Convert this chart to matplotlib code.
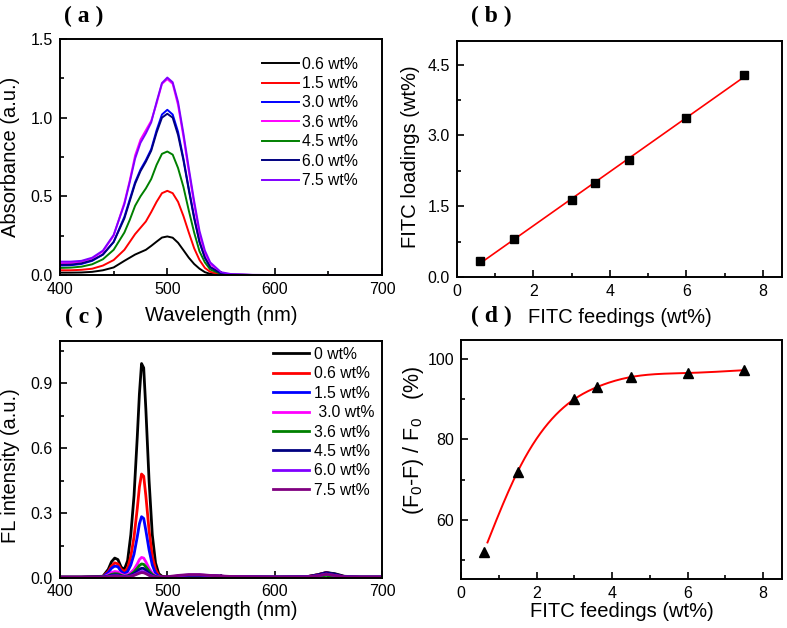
import numpy as np
import matplotlib
matplotlib.use("Agg")
import matplotlib.pyplot as plt
from matplotlib.ticker import MultipleLocator

plt.rcParams['font.family'] = ['Liberation Sans', 'DejaVu Sans']
plt.rcParams['mathtext.fontset'] = 'custom'
plt.rcParams['mathtext.rm'] = 'Liberation Sans'
plt.rcParams['mathtext.it'] = 'Liberation Sans:italic'

# (a) absorbance spectra
wl_abs = [400, 410, 420, 430, 440, 450, 460, 465, 470, 475, 480, 485, 490, 495, 500,
          505, 510, 515, 520, 525, 530, 535, 540, 550, 560, 580, 600, 650, 700]
abs_06 = [0.015, 0.015, 0.016, 0.02, 0.03, 0.048, 0.09, 0.11, 0.13, 0.145, 0.16, 0.185, 0.212, 0.238, 0.245,
          0.237, 0.205, 0.158, 0.11, 0.07, 0.04, 0.018, 0.007, 0.001, 0, 0, 0, 0, 0]
abs_15 = [0.03, 0.03, 0.033, 0.04, 0.06, 0.095, 0.16, 0.21, 0.26, 0.3, 0.34, 0.4, 0.465, 0.52, 0.535,
          0.52, 0.465, 0.375, 0.27, 0.17, 0.095, 0.045, 0.02, 0.004, 0.001, 0, 0, 0, 0]
abs_30 = [0.06, 0.062, 0.07, 0.09, 0.13, 0.21, 0.37, 0.48, 0.59, 0.67, 0.73, 0.8, 0.92, 1.02, 1.05,
          1.02, 0.91, 0.74, 0.55, 0.37, 0.21, 0.11, 0.05, 0.01, 0.002, 0, 0, 0, 0]
abs_36 = [0.075, 0.076, 0.085, 0.105, 0.15, 0.25, 0.46, 0.6, 0.76, 0.86, 0.92, 0.98, 1.09, 1.215, 1.245,
          1.215, 1.08, 0.88, 0.66, 0.45, 0.26, 0.14, 0.07, 0.012, 0.003, 0, 0, 0, 0]
abs_45 = [0.045, 0.047, 0.053, 0.068, 0.1, 0.16, 0.27, 0.35, 0.44, 0.5, 0.55, 0.61, 0.7, 0.77, 0.785,
          0.765, 0.68, 0.56, 0.41, 0.27, 0.15, 0.08, 0.035, 0.007, 0.001, 0, 0, 0, 0]
abs_60 = [0.065, 0.066, 0.074, 0.093, 0.13, 0.21, 0.36, 0.47, 0.58, 0.66, 0.72, 0.79, 0.905, 1.0, 1.025,
          1.0, 0.89, 0.73, 0.54, 0.36, 0.21, 0.11, 0.05, 0.01, 0.002, 0, 0, 0, 0]
abs_75 = [0.085, 0.085, 0.09, 0.11, 0.155, 0.255, 0.45, 0.59, 0.74, 0.84, 0.9, 0.97, 1.1, 1.22, 1.255,
          1.225, 1.1, 0.9, 0.68, 0.47, 0.28, 0.155, 0.08, 0.018, 0.005, 0.001, 0, 0, 0]
abs_labels = ["0.6 wt%", "1.5 wt%", "3.0 wt%", "3.6 wt%", "4.5 wt%", "6.0 wt%", "7.5 wt%"]
abs_colors = ["black", "#FF0000", "#0000FF", "#FF00FF", "#008000", "#000080", "#8000FF"]

# (b) loading vs feeding
feed = [0.6, 1.5, 3.0, 3.6, 4.5, 6.0, 7.5]
loading = [0.33, 0.80, 1.63, 2.00, 2.48, 3.36, 4.28]

# (c) fluorescence spectra
wl_fl = [400, 420, 440, 445, 448, 451, 454, 457, 460, 463, 466, 469, 472, 474, 476, 478, 480, 483,
         486, 489, 492, 495, 500, 510, 520, 530, 540, 560, 600, 630, 640, 648, 656, 665, 680, 700]
fl_00 = [0.005, 0.005, 0.008, 0.04, 0.075, 0.092, 0.085, 0.05, 0.04, 0.08, 0.2, 0.38, 0.65, 0.85, 0.99, 0.97, 0.78, 0.45,
         0.2, 0.07, 0.02, 0.008, 0.005, 0.008, 0.012, 0.012, 0.01, 0.006, 0.005, 0.006, 0.015, 0.025, 0.02, 0.008, 0.005, 0.005]
fl_06 = [0.004, 0.004, 0.006, 0.03, 0.055, 0.07, 0.065, 0.04, 0.03, 0.045, 0.1, 0.19, 0.32, 0.42, 0.48, 0.47, 0.38, 0.22,
         0.1, 0.04, 0.012, 0.005, 0.004, 0.008, 0.012, 0.012, 0.01, 0.006, 0.004, 0.006, 0.015, 0.025, 0.015, 0.006, 0.004, 0.004]
fl_15 = [0.004, 0.004, 0.005, 0.025, 0.045, 0.055, 0.052, 0.03, 0.02, 0.03, 0.06, 0.11, 0.19, 0.25, 0.283, 0.275, 0.22, 0.13,
         0.06, 0.022, 0.008, 0.004, 0.004, 0.008, 0.012, 0.012, 0.01, 0.006, 0.004, 0.005, 0.01, 0.018, 0.012, 0.005, 0.004, 0.004]
fl_30 = [0.003, 0.003, 0.004, 0.015, 0.025, 0.03, 0.028, 0.018, 0.012, 0.015, 0.025, 0.04, 0.065, 0.085, 0.095, 0.092, 0.075, 0.045,
         0.022, 0.01, 0.005, 0.003, 0.003, 0.008, 0.012, 0.012, 0.01, 0.006, 0.004, 0.005, 0.01, 0.015, 0.01, 0.005, 0.004, 0.004]
fl_36 = [0.003, 0.003, 0.004, 0.01, 0.017, 0.02, 0.019, 0.012, 0.008, 0.01, 0.017, 0.028, 0.045, 0.058, 0.065, 0.063, 0.052, 0.032,
         0.016, 0.007, 0.004, 0.003, 0.003, 0.008, 0.012, 0.012, 0.01, 0.006, 0.004, 0.005, 0.008, 0.012, 0.008, 0.005, 0.004, 0.004]
fl_45 = [0.003, 0.003, 0.004, 0.008, 0.013, 0.015, 0.014, 0.009, 0.006, 0.008, 0.013, 0.02, 0.032, 0.04, 0.045, 0.044, 0.036, 0.022,
         0.011, 0.005, 0.003, 0.003, 0.003, 0.008, 0.012, 0.012, 0.01, 0.006, 0.004, 0.006, 0.015, 0.025, 0.018, 0.006, 0.004, 0.004]
fl_60 = [0.003, 0.003, 0.003, 0.006, 0.009, 0.01, 0.01, 0.007, 0.005, 0.006, 0.009, 0.014, 0.021, 0.027, 0.03, 0.029, 0.024, 0.015,
         0.008, 0.004, 0.003, 0.003, 0.003, 0.01, 0.014, 0.014, 0.011, 0.006, 0.004, 0.005, 0.01, 0.018, 0.012, 0.005, 0.004, 0.004]
fl_75 = [0.003, 0.003, 0.003, 0.005, 0.007, 0.008, 0.008, 0.006, 0.004, 0.005, 0.008, 0.012, 0.018, 0.022, 0.025, 0.024, 0.02, 0.012,
         0.006, 0.004, 0.003, 0.004, 0.006, 0.012, 0.016, 0.016, 0.012, 0.007, 0.004, 0.005, 0.01, 0.018, 0.012, 0.005, 0.004, 0.004]
fl_labels = ["0 wt%", "0.6 wt%", "1.5 wt%", " 3.0 wt%", "3.6 wt%", "4.5 wt%", "6.0 wt%", "7.5 wt%"]
fl_colors = ["black", "#FF0000", "#0000FF", "#FF00FF", "#008000", "#000080", "#8000FF", "#800080"]

# (d) quenching efficiency
quench = [52.0, 72.0, 90.0, 93.0, 95.5, 96.5, 97.2]


def natural_spline(x, y, xs):
    # plain natural cubic spline through the points
    x = np.asarray(x, float)
    y = np.asarray(y, float)
    n = len(x)
    h = np.diff(x)
    M = np.zeros((n, n))
    r = np.zeros(n)
    M[0, 0] = M[-1, -1] = 1
    for i in range(1, n - 1):
        M[i, i - 1] = h[i - 1]
        M[i, i] = 2 * (h[i - 1] + h[i])
        M[i, i + 1] = h[i]
        r[i] = 6 * ((y[i + 1] - y[i]) / h[i] - (y[i] - y[i - 1]) / h[i - 1])
    m = np.linalg.solve(M, r)
    idx = np.clip(np.searchsorted(x, xs) - 1, 0, n - 2)
    t0 = xs - x[idx]
    t1 = x[idx + 1] - xs
    hi = h[idx]
    return (m[idx] * t1 ** 3 / (6 * hi) + m[idx + 1] * t0 ** 3 / (6 * hi)
            + (y[idx] / hi - m[idx] * hi / 6) * t1 + (y[idx + 1] / hi - m[idx + 1] * hi / 6) * t0)


fig = plt.figure(figsize=(7.87, 6.28), dpi=100)
ax_a = fig.add_axes([0.0762, 0.5621, 0.4092, 0.3758])
ax_b = fig.add_axes([0.5807, 0.5589, 0.4130, 0.3758])
ax_c = fig.add_axes([0.0762, 0.0796, 0.4092, 0.3774])
ax_d = fig.add_axes([0.5858, 0.0780, 0.4079, 0.3806])


def style(ax):
    for s in ax.spines.values():
        s.set_linewidth(1.4)
    ax.tick_params(which='both', direction='in', top=False, right=False,
                   labelsize=11.5, width=1.2, pad=5)
    ax.tick_params(which='major', length=5)
    ax.tick_params(which='minor', length=3)


# (a)
for ys, lab, c in zip([abs_06, abs_15, abs_30, abs_36, abs_45, abs_60, abs_75], abs_labels, abs_colors):
    ax_a.plot(wl_abs, ys, color=c, lw=1.4, label=lab)
ax_a.set_xlim(400, 700)
ax_a.set_ylim(0, 1.5)
ax_a.xaxis.set_major_locator(MultipleLocator(100))
ax_a.xaxis.set_minor_locator(MultipleLocator(50))
ax_a.yaxis.set_major_locator(MultipleLocator(0.5))
ax_a.yaxis.set_minor_locator(MultipleLocator(0.25))
ax_a.set_xlabel("Wavelength (nm)", fontsize=14.5)
ax_a.set_ylabel("Absorbance (a.u.)", fontsize=14.5)
ax_a.xaxis.set_label_coords(0.5, -0.13)
ax_a.yaxis.set_label_coords(-0.125, 0.5)
style(ax_a)
ax_a.legend(loc='upper left', bbox_to_anchor=(0.626, 0.925), frameon=False, fontsize=11.3,
            handlelength=2.4, handletextpad=0.15, labelspacing=0.28, borderpad=0, borderaxespad=0)

# (b)
k, b0 = np.polyfit(feed, loading, 1)
xf = np.array([feed[0], feed[-1]])
ax_b.plot(xf, k * xf + b0, color='#FF0000', lw=1.2)
ax_b.plot(feed, loading, 's', color='black', ms=5.5)
ax_b.set_xlim(0, 8.5)
ax_b.set_ylim(0, 5.0)
ax_b.xaxis.set_major_locator(MultipleLocator(2))
ax_b.xaxis.set_minor_locator(MultipleLocator(1))
ax_b.yaxis.set_major_locator(MultipleLocator(1.5))
ax_b.yaxis.set_minor_locator(MultipleLocator(0.75))
ax_b.set_xlabel("FITC feedings (wt%)", fontsize=14.5)
ax_b.set_ylabel("FITC loadings (wt%)", fontsize=14.5)
ax_b.xaxis.set_label_coords(0.5, -0.13)
ax_b.yaxis.set_label_coords(-0.115, 0.51)
style(ax_b)

# (c)
for ys, lab, c in zip([fl_00, fl_06, fl_15, fl_30, fl_36, fl_45, fl_60, fl_75], fl_labels, fl_colors):
    ax_c.plot(wl_fl, ys, color=c, lw=2.0, label=lab)
ax_c.set_xlim(400, 700)
ax_c.set_ylim(0, 1.094)
ax_c.xaxis.set_major_locator(MultipleLocator(100))
ax_c.xaxis.set_minor_locator(MultipleLocator(50))
ax_c.yaxis.set_major_locator(MultipleLocator(0.3))
ax_c.yaxis.set_minor_locator(MultipleLocator(0.15))
ax_c.set_xlabel("Wavelength (nm)", fontsize=14.5)
ax_c.set_ylabel("FL intensity (a.u.)", fontsize=14.5)
style(ax_c)
ax_c.tick_params(axis='x', pad=4)
ax_c.xaxis.set_label_coords(0.5, -0.095)
ax_c.yaxis.set_label_coords(-0.125, 0.475)
ax_c.legend(loc='upper left', bbox_to_anchor=(0.662, 0.975), frameon=False, fontsize=11.3,
            handlelength=2.3, handletextpad=0.3, labelspacing=0.28, borderpad=0, borderaxespad=0)

# (d)
xs = np.linspace(0.7, 7.5, 200)
ax_d.plot(xs, natural_spline(feed, quench, xs), color='#FF0000', lw=1.4)
ax_d.plot(feed, quench, '^', color='black', ms=7.5)
ax_d.set_xlim(0, 8.5)
ax_d.set_ylim(45.3, 104.7)
ax_d.xaxis.set_major_locator(MultipleLocator(2))
ax_d.xaxis.set_minor_locator(MultipleLocator(1))
ax_d.yaxis.set_major_locator(MultipleLocator(20))
ax_d.yaxis.set_minor_locator(MultipleLocator(10))
ax_d.set_xlabel("FITC feedings (wt%)", fontsize=14.5)
ax_d.set_ylabel(r"(F$_0$-F) / F$_0$   (%)", fontsize=15.5)
ax_d.xaxis.set_label_coords(0.5, -0.098)
ax_d.yaxis.set_label_coords(-0.11, 0.58)
style(ax_d)

# panel letters
for x, y, t in [(84, 16, "( a )"), (491, 16, "( b )"), (84, 317, "( c )"), (491, 316, "( d )")]:
    fig.text(x / 787, 1 - y / 628, t, fontsize=17, fontweight='bold',
             family='Liberation Serif', ha='center', va='center')

fig.savefig("out.png", dpi=100)
